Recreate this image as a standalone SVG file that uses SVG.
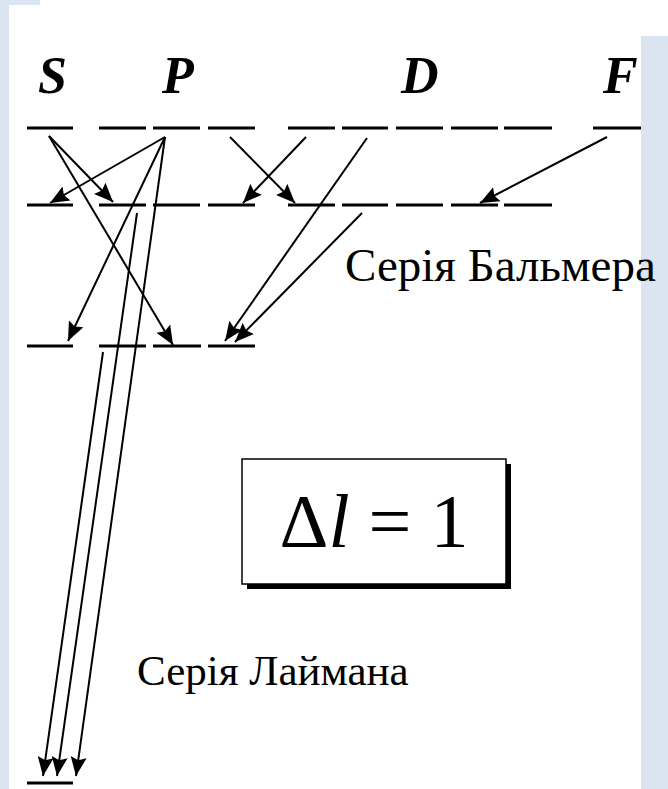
<svg xmlns="http://www.w3.org/2000/svg" width="668" height="789" viewBox="0 0 668 789">
<style>
.bg{fill:#dbe5f1}
.lvl{stroke:#000;stroke-width:2.8;fill:none}
.arr{stroke:#000;stroke-width:2;fill:none;marker-end:url(#ah)}
.lbl{font-family:"Liberation Serif",serif;font-weight:bold;font-style:italic;font-size:52px;fill:#000}
.cap{font-family:"Liberation Serif","Noto Serif",serif;fill:#000}
.eq{font-family:"Liberation Serif",serif;font-size:76px;fill:#000}
</style>
<defs>
<marker id="ah" markerUnits="userSpaceOnUse" markerWidth="22" markerHeight="18" refX="19" refY="9" orient="auto">
<path d="M0,1 L19,9 L0,17 L3,9 Z" fill="#000"/>
</marker>
</defs>
<rect width="668" height="789" fill="#fff"/>
<g id="labels">
<text class="lbl" x="38" y="93">S</text>
<text class="lbl" x="162" y="93">P</text>
<text class="lbl" x="401" y="93">D</text>
<text class="lbl" x="603" y="93">F</text>
</g>
<g id="level-n4" class="lvl">
<line x1="27" y1="128" x2="73" y2="128"/>
<line x1="99" y1="128" x2="146" y2="128"/>
<line x1="153" y1="128" x2="200" y2="128"/>
<line x1="208" y1="128" x2="255" y2="128"/>
<line x1="288" y1="128" x2="335" y2="128"/>
<line x1="342" y1="128" x2="388" y2="128"/>
<line x1="396" y1="128" x2="443" y2="128"/>
<line x1="451" y1="128" x2="498" y2="128"/>
<line x1="504" y1="128" x2="552" y2="128"/>
<line x1="593" y1="128" x2="641" y2="128"/>
</g>
<g id="level-n3" class="lvl">
<line x1="27" y1="205" x2="73" y2="205"/>
<line x1="99" y1="205" x2="146" y2="205"/>
<line x1="153" y1="205" x2="200" y2="205"/>
<line x1="208" y1="205" x2="255" y2="205"/>
<line x1="288" y1="205" x2="335" y2="205"/>
<line x1="342" y1="205" x2="388" y2="205"/>
<line x1="396" y1="205" x2="443" y2="205"/>
<line x1="451" y1="205" x2="498" y2="205"/>
<line x1="504" y1="205" x2="552" y2="205"/>
</g>
<g id="level-n2" class="lvl">
<line x1="27" y1="346" x2="73" y2="346"/>
<line x1="99" y1="346" x2="146" y2="346"/>
<line x1="153" y1="346" x2="201" y2="346"/>
<line x1="208" y1="346" x2="255" y2="346"/>
</g>
<g id="level-n1" class="lvl">
<line x1="27" y1="783" x2="73" y2="783"/>
</g>
<g id="connectors">
<line class="arr" x1="49" y1="136" x2="113" y2="202"/>
<line class="arr" x1="49" y1="136" x2="173" y2="345"/>
<line class="arr" x1="165" y1="137" x2="50" y2="203"/>
<line class="arr" x1="165" y1="137" x2="68" y2="341"/>
<line class="arr" x1="165" y1="137" x2="76" y2="776"/>
<line class="arr" x1="137" y1="213" x2="57" y2="776"/>
<line class="arr" x1="103" y1="352" x2="43" y2="776"/>
<line class="arr" x1="230" y1="137" x2="295" y2="203"/>
<line class="arr" x1="306" y1="137" x2="243" y2="203"/>
<line class="arr" x1="367" y1="138" x2="225" y2="341"/>
<line class="arr" x1="362" y1="213" x2="235" y2="342"/>
<line class="arr" x1="607" y1="137" x2="480" y2="203"/>
</g>
<g id="frame">
<rect class="bg" x="0" y="0" width="9" height="789"/>
<rect class="bg" x="0" y="0" width="40" height="5"/>
<rect class="bg" x="641" y="36" width="27" height="753"/>
</g>
<g id="rule">
<rect x="247" y="464" width="264" height="125" fill="#000"/>
<rect x="242" y="459" width="264" height="125" fill="#fff" stroke="#000" stroke-width="1.5"/>
<text class="eq" x="374" y="547" text-anchor="middle">Δ<tspan font-style="italic">l</tspan> = 1</text>
</g>
<text class="cap" x="345" y="281" font-size="47">Серія Бальмера</text>
<text class="cap" x="137" y="685" font-size="43">Серія Лаймана</text>
</svg>
